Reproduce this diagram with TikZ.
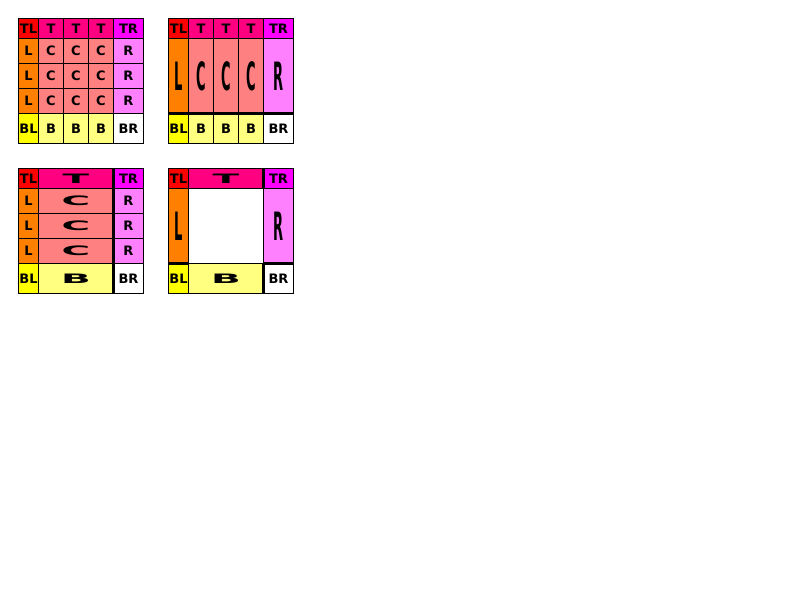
\documentclass[tikz,border=0pt]{standalone}
\usepackage{fontspec}
\usepackage{graphicx}
\usepackage{tikz}
\newfontfamily\tilesans{DejaVu Sans}
\definecolor{tlRed}{HTML}{FF0000}
\definecolor{topPink}{HTML}{FF0080}
\definecolor{trMagenta}{HTML}{FF00FF}
\definecolor{leftOrange}{HTML}{FF8000}
\definecolor{centreSalmon}{HTML}{FF8080}
\definecolor{rightPink}{HTML}{FF80FF}
\definecolor{blYellow}{HTML}{FFFF00}
\definecolor{bottomYellow}{HTML}{FFFF80}
\definecolor{brWhite}{HTML}{FFFFFF}
\newcommand{\stretchx}[1]{\scalebox{3}[1]{#1}}
\newcommand{\stretchy}[1]{\scalebox{1}[3]{#1}}

\begin{document}
\begin{tikzpicture}[
    x=1pt, y=-1pt,
    tile/.style={draw=black, line width=1pt, inner sep=0pt, anchor=north west,
        font=\tilesans\bfseries\fontsize{13}{13}\selectfont},
    seam/.style={draw=black, line width=2.5pt},
]
\useasboundingbox[fill=white] (0,0) rectangle (800,600);

% Box 1: every slice at its own size
\foreach \y/\h/\a/\b/\c/\ca/\cb/\cc in {
    0/20/TL/T/TR/tlRed/topPink/trMagenta,
    20/25/L/C/R/leftOrange/centreSalmon/rightPink,
    45/25/L/C/R/leftOrange/centreSalmon/rightPink,
    70/25/L/C/R/leftOrange/centreSalmon/rightPink,
    95/30/BL/B/BR/blYellow/bottomYellow/brWhite} {
    \node[tile, fill=\ca, minimum width=20, minimum height=\h] (a-\y-l) at (18, 18+\y) {\a};
    \foreach \x in {20, 45, 70}
        \node[tile, fill=\cb, minimum width=25, minimum height=\h] (a-\y-\x) at (18+\x, 18+\y) {\b};
    \node[tile, fill=\cc, minimum width=30, minimum height=\h] (a-\y-r) at (113, 18+\y) {\c};
}

% Box 2: middle row stretched down
\foreach \y/\h/\a/\b/\c/\ca/\cb/\cc in {
    0/20/TL/T/TR/tlRed/topPink/trMagenta,
    20/75/\stretchy{L}/\stretchy{C}/\stretchy{R}/leftOrange/centreSalmon/rightPink,
    95/30/BL/B/BR/blYellow/bottomYellow/brWhite} {
    \node[tile, fill=\ca, minimum width=20, minimum height=\h] (b-\y-l) at (168, 18+\y) {\a};
    \foreach \x in {20, 45, 70}
        \node[tile, fill=\cb, minimum width=25, minimum height=\h] (b-\y-\x) at (168+\x, 18+\y) {\b};
    \node[tile, fill=\cc, minimum width=30, minimum height=\h] (b-\y-r) at (263, 18+\y) {\c};
}
\draw[seam] ([yshift=0.5pt]b-20-l.south west) -- ([yshift=0.5pt]b-20-r.south east);

% Box 3: middle column stretched across
\foreach \y/\h/\a/\b/\c/\ca/\cb/\cc in {
    0/20/TL/T/TR/tlRed/topPink/trMagenta,
    20/25/L/C/R/leftOrange/centreSalmon/rightPink,
    45/25/L/C/R/leftOrange/centreSalmon/rightPink,
    70/25/L/C/R/leftOrange/centreSalmon/rightPink,
    95/30/BL/B/BR/blYellow/bottomYellow/brWhite} {
    \node[tile, fill=\ca, minimum width=20, minimum height=\h] (c-\y-l) at (18, 168+\y) {\a};
    \node[tile, fill=\cb, minimum width=75, minimum height=\h] (c-\y-m) at (38, 168+\y) {\stretchx{\b}};
    \node[tile, fill=\cc, minimum width=30, minimum height=\h] (c-\y-r) at (113, 168+\y) {\c};
}
\draw[seam] ([xshift=-0.5pt]c-0-m.north east) -- ([xshift=-0.5pt]c-95-m.south east);

% Box 4: edges stretched, no centre
\node[tile, fill=tlRed, minimum width=20, minimum height=20] (d-tl) at (168, 168) {TL};
\node[tile, fill=topPink, minimum width=75, minimum height=20] (d-t) at (188, 168) {\stretchx{T}};
\node[tile, fill=trMagenta, minimum width=30, minimum height=20] (d-tr) at (263, 168) {TR};
\node[tile, fill=leftOrange, minimum width=20, minimum height=75] (d-l) at (168, 188) {\stretchy{L}};
\node[tile, fill=rightPink, minimum width=30, minimum height=75] (d-r) at (263, 188) {\stretchy{R}};
\node[tile, fill=blYellow, minimum width=20, minimum height=30] (d-bl) at (168, 263) {BL};
\node[tile, fill=bottomYellow, minimum width=75, minimum height=30] (d-b) at (188, 263) {\stretchx{B}};
\node[tile, fill=brWhite, minimum width=30, minimum height=30] (d-br) at (263, 263) {BR};
\draw[seam] ([xshift=-0.5pt]d-t.north east) -- ([xshift=-0.5pt]d-t.south east);
\draw[seam] ([xshift=-0.5pt]d-b.north east) -- ([xshift=-0.5pt]d-b.south east);
\draw[seam] ([yshift=0.5pt]d-l.south west) -- ([yshift=0.5pt]d-l.south east);
\draw[seam] ([yshift=0.5pt]d-r.south west) -- ([yshift=0.5pt]d-r.south east);
\end{tikzpicture}
\end{document}
